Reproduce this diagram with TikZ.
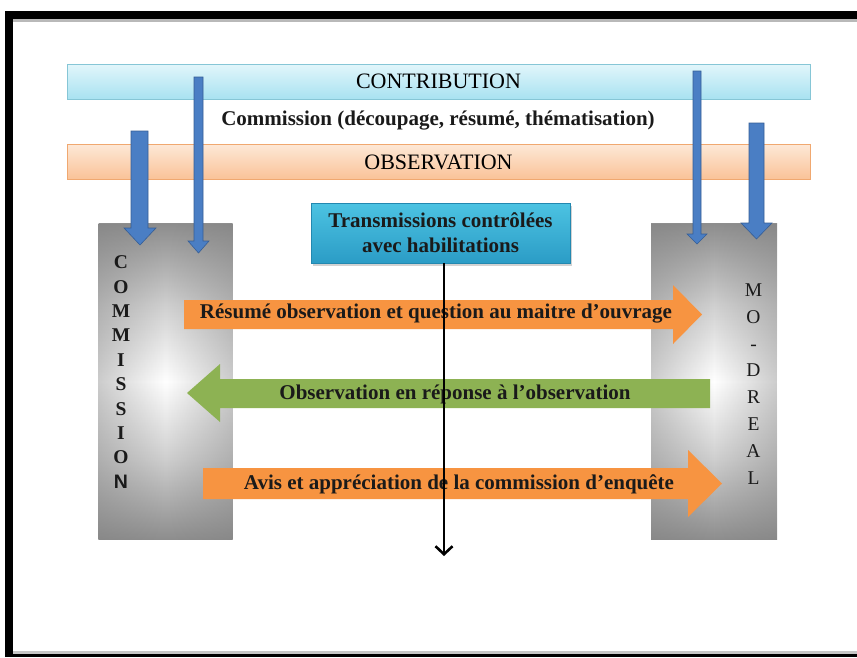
\documentclass[tikz,border=0pt]{standalone}
\usepackage{fontspec}
\setmainfont{Liberation Serif}
\newfontfamily\arialfont{Liberation Sans}
\usetikzlibrary{shadows,arrows.meta,fadings}
\definecolor{cyantop}{HTML}{E2F6FB}
\definecolor{cyanbot}{HTML}{A8E2F1}
\definecolor{cyanedge}{HTML}{86C6D6}
\definecolor{orgtop}{HTML}{FDE8D6}
\definecolor{orgbot}{HTML}{FAC297}
\definecolor{orgedge}{HTML}{F0A870}
\definecolor{arrorange}{HTML}{F79441}
\definecolor{arrgreen}{HTML}{8DB253}
\definecolor{bluefill}{HTML}{4A7EC4}
\definecolor{blueedge}{HTML}{365E96}
\definecolor{tbtop}{HTML}{4CC3E2}
\definecolor{tbbot}{HTML}{2B9CC6}
\definecolor{tbedge}{HTML}{2388B0}
\definecolor{txt}{HTML}{1A1A1A}
\definecolor{glowedge}{HTML}{8E8E8E}
\definecolor{glowmid}{HTML}{D0D0D0}
\pgfdeclareverticalshading{vglow}{100bp}{color(0bp)=(glowedge); color(25bp)=(glowedge); color(38bp)=(glowmid); color(50bp)=(white); color(62bp)=(glowmid); color(75bp)=(glowedge); color(100bp)=(glowedge)}
\tikzfading[name=sidefade, left color=transparent!60, right color=transparent!60, middle color=transparent!100]
\begin{document}
\begin{tikzpicture}[x=1pt,y=-1pt,
  bar/.style={draw=#1, line width=0.8pt, minimum width=743pt, minimum height=35pt, inner sep=0pt, font=\fontsize{22}{24}\selectfont},
  graybox/.style={shading=vglow, minimum width=134pt, minimum height=316pt, inner sep=0pt},
  bluearrow/.style={fill=bluefill, draw=blueedge, line width=0.6pt},
  lbl/.style={font=\fontsize{21}{24}\selectfont\bfseries, text=txt, inner sep=0pt},
  letters/.style={align=center, inner sep=0pt, text=txt}
]
\useasboundingbox (0,0) rectangle (857,657);
\fill[white] (0,0) rectangle (857,657);
% frame
\fill[gray!55] (13,19) rectangle (857,21.5);
\fill[gray!45] (13,650.5) rectangle (857,654);
\fill[black] (5,11) rectangle (857,19);
\fill[black] (5,11) rectangle (13,657);
\fill[black] (5,654) rectangle (857,657);

% bars
\node[bar=cyanedge, top color=cyantop, bottom color=cyanbot] (contrib) at (438.5,81.5) {CONTRIBUTION};
\node[lbl] (commtitle) at (438,121) {Commission (découpage, résumé, thématisation)};
\node[bar=orgedge, top color=orgtop, bottom color=orgbot] (observ) at (438.5,162) {OBSERVATION};

% gray boxes
\node[graybox] (commbox) at (165.5,381.5) {};
\fill[gray, path fading=sidefade] (commbox.north west) rectangle (commbox.south east);
\node[graybox, minimum width=126pt] (drealbox) at (714,381.5) {};
\fill[gray, path fading=sidefade] (drealbox.north west) rectangle (drealbox.south east);

% letters
\node[letters, font=\fontsize{19.5}{24.4}\selectfont\bfseries] (commtxt) at (121,372)
  {C\\O\\M\\M\\I\\S\\S\\I\\O\\{\arialfont N}};
\node[letters, font=\fontsize{19.5}{26.9}\selectfont] (drealtxt) at (753.5,384)
  {M\\O\\-\\D\\R\\E\\A\\L};

% blue arrows
\path[bluearrow] (131,131) -- (148,131) -- (148,228) -- (156,228) -- (140,245) -- (124,228) -- (131,228) -- cycle;
\path[bluearrow] (194,77) -- (203,77) -- (203,241) -- (209,241) -- (198.5,253) -- (188,241) -- (194,241) -- cycle;
\path[bluearrow] (693,71) -- (701,71) -- (701,234) -- (707,234) -- (697,244) -- (687,234) -- (693,234) -- cycle;
\path[bluearrow] (749,123) -- (764,123) -- (764,223) -- (772,223) -- (756.5,239) -- (741,223) -- (749,223) -- cycle;

% horizontal block arrows
\fill[arrorange] (184,300) -- (673,300) -- (673,285) -- (702,314.5) -- (673,344) -- (673,329) -- (184,329) -- cycle;
\fill[arrgreen] (710,379) -- (220,379) -- (220,364) -- (187,393) -- (220,422) -- (220,408) -- (710,408) -- cycle;
\fill[arrorange] (203,468) -- (688,468) -- (688,450) -- (722,483.5) -- (688,517) -- (688,499) -- (203,499) -- cycle;

\node[lbl] (t1) at (436,314) {Résumé observation et question au maitre d’ouvrage};
\node[lbl] (t2) at (455,394) {Observation en réponse à l’observation};
\node[lbl] (t3) at (459,484) {Avis et appréciation de la commission d’enquête};

% transmissions box
\node[draw=tbedge, line width=0.8pt, top color=tbtop, bottom color=tbbot,
      minimum width=259pt, minimum height=60pt, align=center,
      font=\fontsize{21}{25}\selectfont\bfseries, text=txt,
      drop shadow={shadow xshift=2pt, shadow yshift=-3pt, opacity=0.35}] (trans) at (440.5,233)
  {Transmissions contrôlées\\avec habilitations};

% black arrow
\coordinate (down) at (444,556);
\draw[line width=2.6pt, -{Straight Barb[length=8pt,width=17pt]}] ([xshift=3.5pt]trans.south) -- (down);
\end{tikzpicture}
\end{document}
